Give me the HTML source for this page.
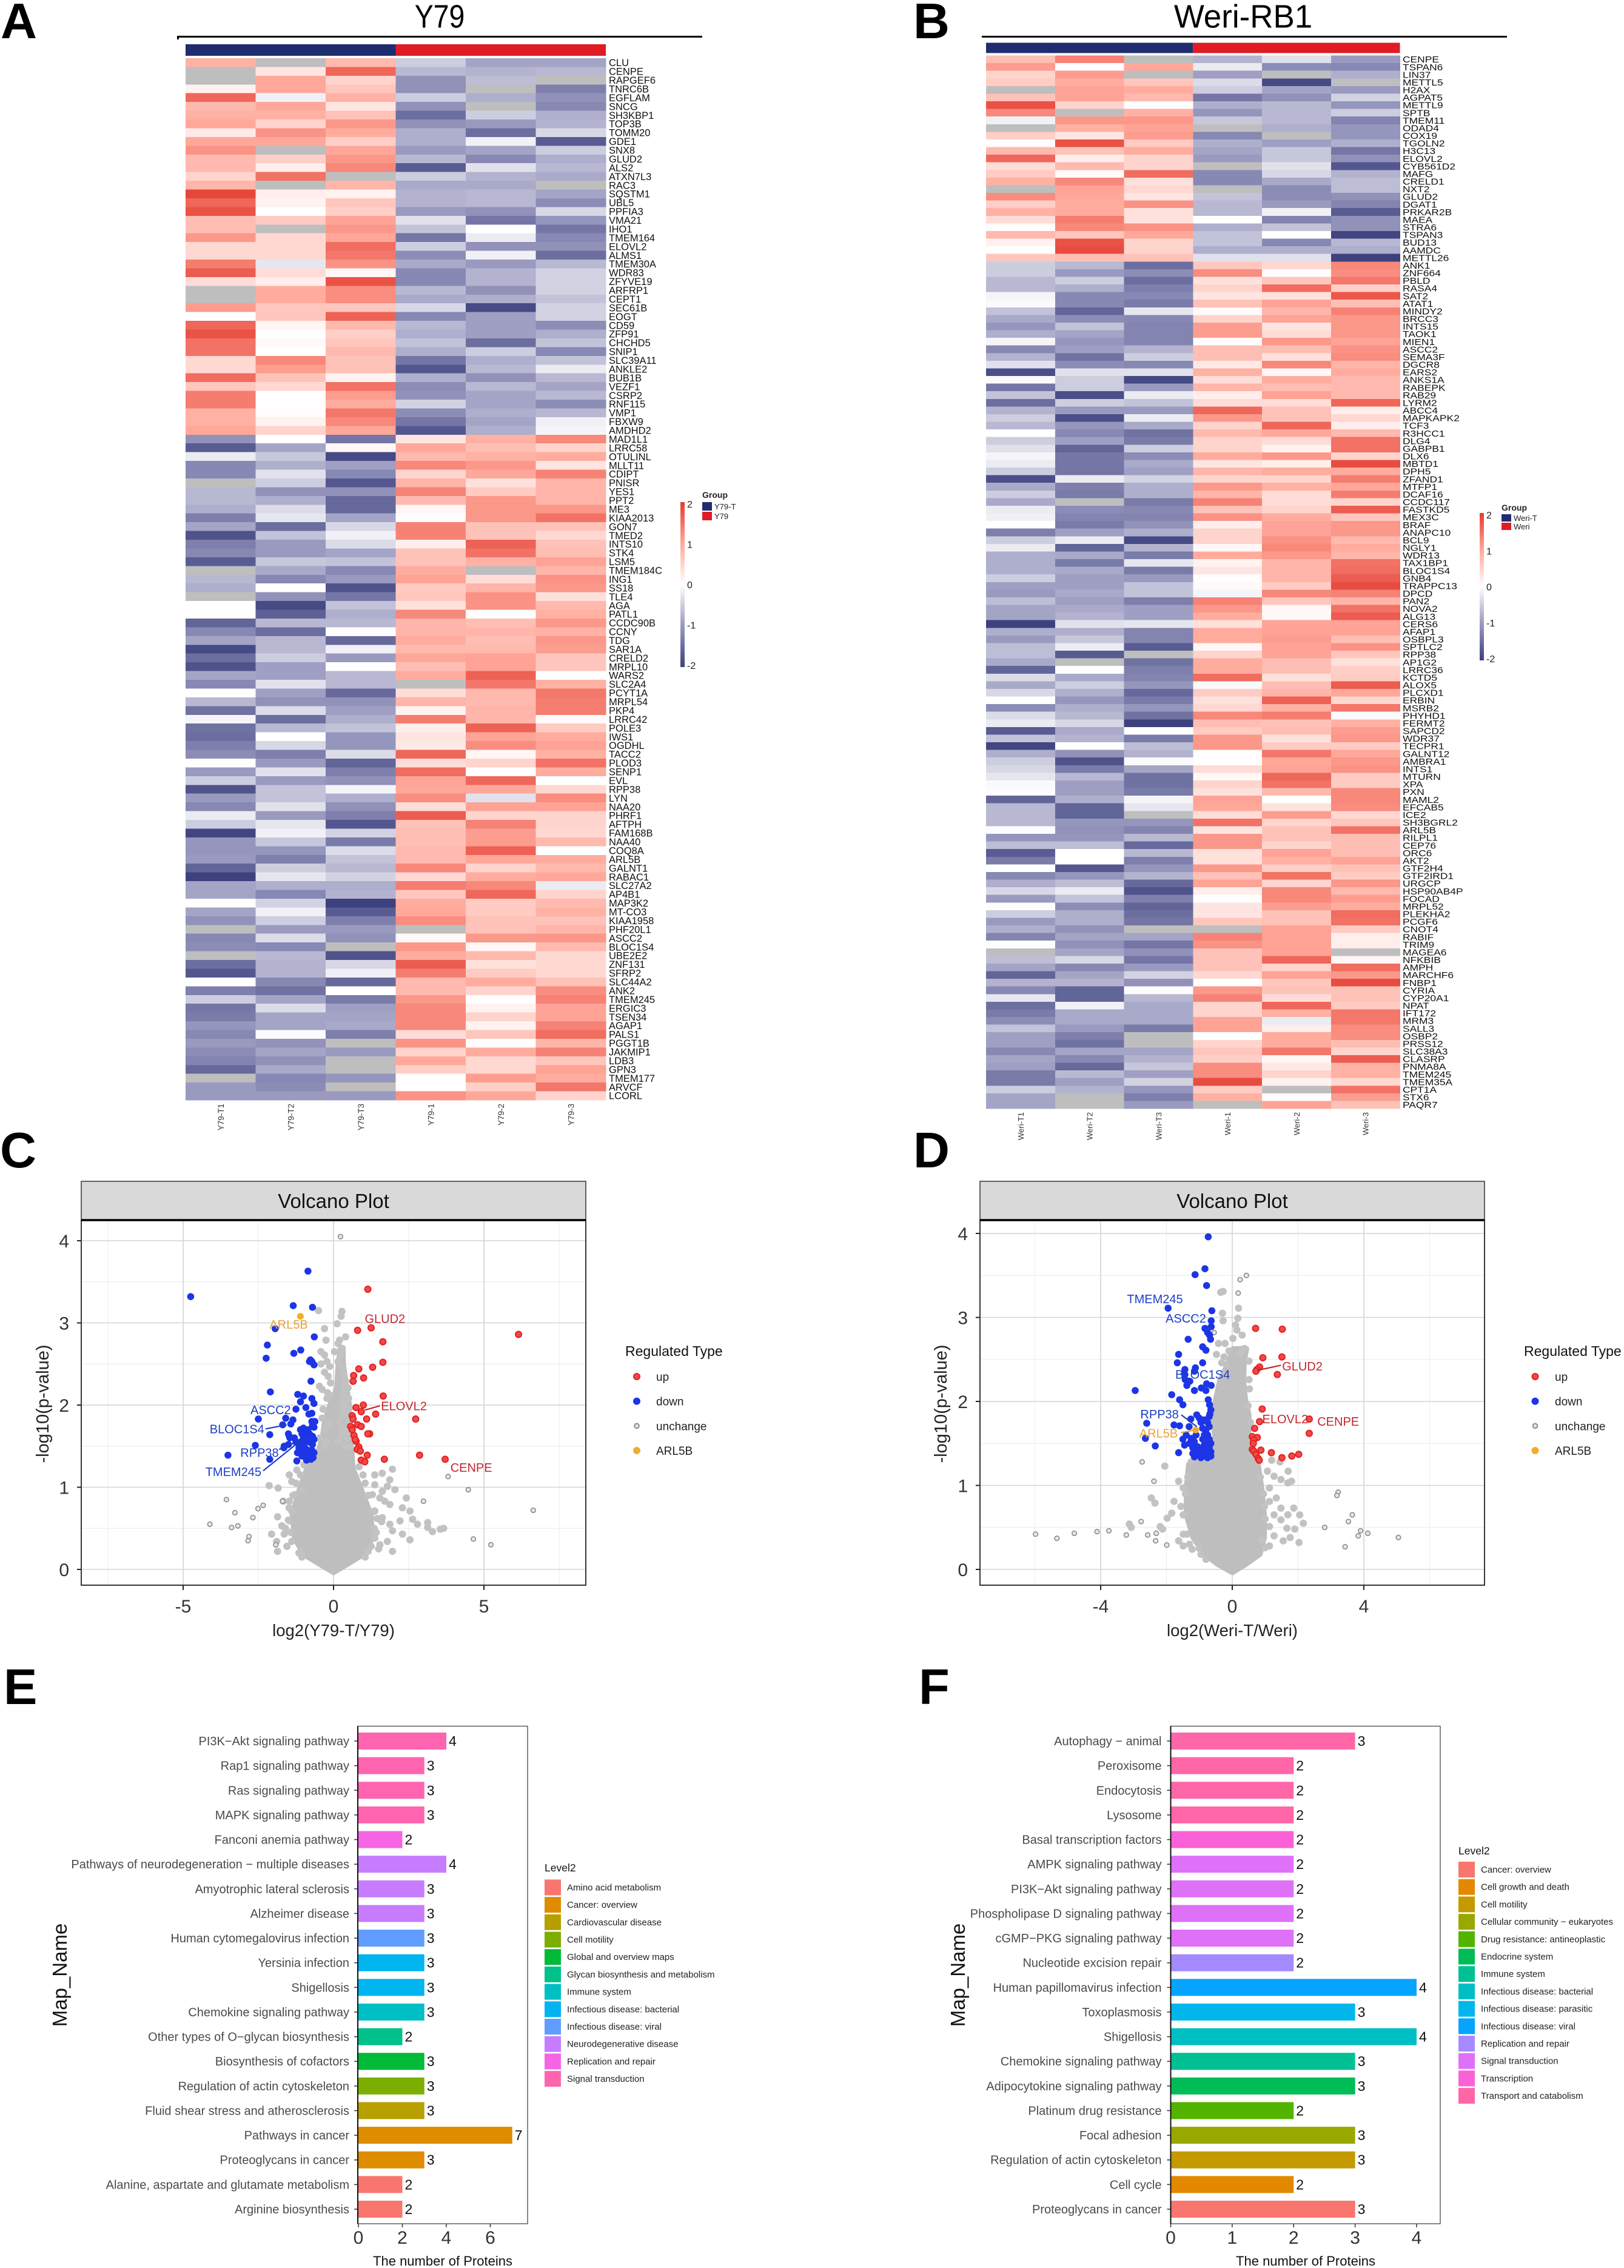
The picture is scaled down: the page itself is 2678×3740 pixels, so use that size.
<!DOCTYPE html>
<html lang="en">
<head>
<meta charset="utf-8">
<title>Proteomics figure: heatmaps, volcano plots and pathway bars</title>
<style>
html,body{margin:0;padding:0;background:#fff;}
svg{display:block;}
text{font-family:"Liberation Sans",sans-serif;}
</style>
</head>
<body>
<svg id="figure" xmlns="http://www.w3.org/2000/svg" width="2678" height="3740" viewBox="0 0 2678 3740">
<rect x="0" y="0" width="2678" height="3740" fill="#fff"/>
<text x="1" y="63" font-size="83" font-weight="700" fill="#000">A</text>
<text x="1506" y="63" font-size="83" font-weight="700" fill="#000">B</text>
<text x="0" y="1925" font-size="83" font-weight="700" fill="#000">C</text>
<text x="1506" y="1925" font-size="83" font-weight="700" fill="#000">D</text>
<text x="6" y="2810" font-size="83" font-weight="700" fill="#000">E</text>
<text x="1515" y="2810" font-size="83" font-weight="700" fill="#000">F</text>
<text transform="translate(725,45.5) scale(.86,1)" text-anchor="middle" font-size="54" fill="#000">Y79</text>
<text transform="translate(2050,45.5) scale(.98,1)" text-anchor="middle" font-size="54" fill="#000">Weri-RB1</text>
<rect x="292" y="59" width="866" height="3" fill="#000"/>
<rect x="292" y="59" width="3" height="6" fill="#000"/>
<rect x="1619" y="59" width="866" height="3" fill="#000"/>
</svg>
<script>
/* ---------- Heatmap A data (Y79) ---------- */
const y79Genes = ["CLU","CENPE","RAPGEF6","TNRC6B","EGFLAM","SNCG","SH3KBP1","TOP3B","TOMM20","GDE1","SNX8","GLUD2","ALS2","ATXN7L3","RAC3","SQSTM1","UBL5","PPFIA3","VMA21","IHO1","TMEM164","ELOVL2","ALMS1","TMEM30A","WDR83","ZFYVE19","ARFRP1","CEPT1","SEC61B","EOGT","CD59","ZFP91","CHCHD5","SNIP1","SLC39A11","ANKLE2","BUB1B","VEZF1","CSRP2","RNF115","VMP1","FBXW9","AMDHD2","MAD1L1","LRRC58","OTULINL","MLLT11","CDIPT","PNISR","YES1","PPT2","ME3","KIAA2013","GON7","TMED2","INTS10","STK4","LSM5","TMEM184C","ING1","SS18","TLE4","AGA","PATL1","CCDC90B","CCNY","TDG","SAR1A","CRELD2","MRPL10","WARS2","SLC2A4","PCYT1A","MRPL54","PKP4","LRRC42","POLE3","IWS1","OGDHL","TACC2","PLOD3","SENP1","EVL","RPP38","LYN","NAA20","PHRF1","AFTPH","FAM168B","NAA40","COQ8A","ARL5B","GALNT1","RABAC1","SLC27A2","AP4B1","MAP3K2","MT-CO3","KIAA1958","PHF20L1","ASCC2","BLOC1S4","UBE2E2","ZNF131","SFRP2","SLC44A2","ANK2","TMEM245","ERGIC3","TSEN34","AGAP1","PALS1","PGGT1B","JAKMIP1","LDB3","GPN3","TMEM177","ARVCF","LCORL"];
const y79Samples = ["Y79-T1","Y79-T2","Y79-T3","Y79-1","Y79-2","Y79-3"];
const y79Groups = ["Y79-T","Y79"];
const N = null;
const y79Values = [
[.9,N,.8,-.5,-.9,-.9],[N,.3,1.6,-.7,-.75,-.7],[N,1,.5,-1.1,-.65,N],[.15,1,.65,-1.1,N,-1.3],[1.6,-.15,.9,-.5,-.8,-1.1],[.8,1,.3,-1.1,N,-1.2],[.9,.9,.7,-1.5,-.5,-.8],[1,.5,1.15,-1.1,-1,-.75],[.25,1.2,.95,-.8,-1.5,-.4],[1,1,.55,-.8,-.15,-1.7],
[1.2,N,1,-1,-.9,-.5],[.8,.55,1.15,-.7,-1.2,-.8],[.8,.2,1.3,-1.7,-.3,-.7],[.5,1.5,N,-.5,-.75,-.85],[.85,N,.85,-.85,-.85,N],[1.9,.2,.15,-.75,-.7,-.9],[1.6,.15,.65,-.75,-.7,-1.15],[1.8,0,.55,-1,-1.1,-.4],[.75,.6,1.05,-.3,-1.4,-1.05],[.75,N,1.15,-.6,0,-1.4],
[1.15,.45,1,-1.4,-.2,-1.2],[.45,.45,1.55,-.5,-1.1,-1.1],[.45,.45,1.45,-1.15,-.15,-1.5],[1.4,-.25,1.2,-.85,-1,-.7],[1.7,.4,.1,-1.2,-.75,-.45],[.4,.2,1.8,-1.2,-.75,-.45],[N,.95,1.25,-.7,-1.1,-.45],[N,.95,1.25,-.85,-.8,-.6],[1.1,.65,.65,-.4,-1.9,-.45],[0,.65,1.65,-1.2,-.95,-.45],
[1.6,.1,.8,-.7,-.95,-1.15],[1.8,0,.55,-.8,-.95,-.8],[1.5,.07,.65,-.6,-1.5,-.6],[1.5,0,.8,-.8,-.5,-1.2],[.45,1.3,.7,-1.4,-.8,-.6],[.45,1.1,.7,-1.75,-.7,-.2],[1.55,.7,.15,-.8,-1.1,-.7],[.65,.45,1.5,-1.15,-.7,-.9],[1.4,.02,1.1,-1.1,-.9,-.7],[1.4,.02,.95,-.45,-.9,-1.15],
[.9,.03,1.45,-1.15,-.8,-.7],[.9,.15,1.3,-1.4,-.9,-.15],[1,.5,1,-1.75,-.8,-.1],[-1.1,0,-1.4,.3,.9,1.3],[-1.7,-.9,.1,1,.75,.5],[-.2,-.55,-1.9,.8,.9,.95],[-1.2,-.8,-.95,1.3,1.15,.3],[-1.2,-.3,-1.2,.5,1,1.35],[N,-.5,-1.75,.85,.35,.85],[-.7,-1.1,-1.1,1.35,.6,.85],
[-.7,-.8,-1.55,.8,1.15,.85],[-.8,-.35,-1.55,.1,1.15,1.15],[-1.3,-.25,-.9,.02,1.15,1.5],[-.9,-1.5,-.4,1.35,.7,.7],[-1.8,-.6,-.15,1.35,.7,.45],[-1.3,-1,-.35,.2,1.65,.7],[-1.2,-1,-.9,.7,1.5,.75],[-1.7,-.55,-.6,.7,.9,1.05],[N,-.85,-1.2,.95,N,.85],[-.7,-1.2,-1,1.05,.4,1.2],
[-.8,0,-1.8,.6,.85,1.15],[N,-1.1,-1.4,.65,1.2,.35],[0,-1.9,-.6,.35,1.2,.8],[0,-1.65,-.8,1.3,0,.9],[-1.6,-.7,-.7,.85,.75,1.15],[-1.2,-1.5,0,.85,.85,.9],[-.9,-.7,-1.55,.95,.75,1.15],[-1.9,-.7,-.15,.8,.8,1.1],[-1.5,-.5,-1,1,1.05,.65],[-1.8,-.95,0,.75,1.05,.65],
[-.9,-.95,-.7,.95,1.65,0],[-1.2,-.3,-.7,N,1.45,.9],[0,-.95,-1.55,.4,.8,1.45],[-.7,-1.1,-1.1,.85,.8,1.4],[-1.45,-.35,-.95,.15,.85,1.4],[-.1,-1.5,-.8,1.4,.85,.05],[-1.45,-.7,-.6,.2,1.65,.6],[-1.5,0,-1.05,.3,1.05,.95],[-1.3,-.4,-1.05,.25,1.25,1.05],[-1.15,-1.3,-.35,1.6,.1,.9],
[0,-1,-1.6,.4,.5,1.5],[-1,-.3,-1.3,1.55,0,.95],[-.5,-1,-1.1,1.05,1.6,0],[-1.8,-.6,-.1,1,1,.45],[-1,-.6,-.8,1.25,-.3,1.25],[-1.2,-.3,-1.1,.4,1.05,1.05],[-.2,-1,-1.3,1.7,.5,.5],[-.5,-.25,-1.75,.7,1.35,.5],[-1.95,-.15,-.45,.75,1.1,.45],[-1.05,-.55,-1.35,.75,1.1,.8],
[-1.05,-1.05,-.35,.8,1.65,0],[-1,-1.3,-.6,.8,1,.95],[-1.6,-.5,-.7,1.3,.5,.8],[-2,-.25,-.45,.45,.95,1],[-.9,-.8,-.8,1.4,1.3,-.2],[-.9,-1.2,-.75,.65,1.6,.5],[0,-.45,-2,.95,.6,.8],[-.9,-.15,-1.7,1,.6,.9],[-1.1,-.5,-1.3,1.25,.7,.7],[N,-1,-1,N,.7,.85],
[-1.2,-.35,-1.1,.06,1.15,1.15],[-1.15,-1.2,N,1.15,.1,.8],[N,-.7,-1.8,.95,.8,.45],[-1.5,-.75,-.4,1.7,.35,.45],[-1.75,-.75,-.15,1.4,.6,.45],[0,-1.2,-1.55,.8,.95,.7],[-1.3,-1.45,0,.8,.5,1.25],[-.5,-.9,-1.35,1.15,0,1.35],[-1.4,-.35,-.95,1.3,.15,1.05],[-1.35,-.9,-.9,1.3,.5,1.05],
[-1.05,-.9,-.85,1.3,.15,1.35],[-1.2,-.05,-1.3,.4,.65,1.55],[-1,-1.1,N,1.2,.02,.85],[-1.15,-.9,-1,.5,.95,1.35],[-1.25,-1.1,N,1,.45,.65],[-1.55,-.85,N,.55,.45,1.05],[N,-1.2,-1.05,.02,1.1,.95],[-1,-1.15,N,.02,.55,1.45],[-1,-1,-1,1.2,1,.5]
];

/* ---------- Heatmap B data (Weri-RB1) ---------- */
const weriGenes = ["CENPE","TSPAN6","LIN37","METTL5","H2AX","AGPAT5","METTL9","SPTB","TMEM11","ODAD4","COX19","TGOLN2","H3C13","ELOVL2","CYB561D2","MAFG","CRELD1","NXT2","GLUD2","DGAT1","PRKAR2B","MAEA","STRA6","TSPAN3","BUD13","AAMDC","METTL26","ANK1","ZNF664","PBLD","RASA4","SAT2","ATAT1","MINDY2","BRCC3","INTS15","TAOK1","MIEN1","ASCC2","SEMA3F","DGCR8","EARS2","ANKS1A","RABEPK","RAB29","LYRM2","ABCC4","MAPKAPK2","TCF3","R3HCC1","DLG4","GABPB1","DLX6","MBTD1","DPH5","ZFAND1","MTFP1","DCAF16","CCDC117","FASTKD5","MEX3C","BRAF","ANAPC10","BCL9","NGLY1","WDR13","TAX1BP1","BLOC1S4","GNB4","TRAPPC13","DPCD","PAN2","NOVA2","ALG13","CERS6","AFAP1","OSBPL3","SPTLC2","RPP38","AP1G2","LRRC36","KCTD5","ALOX5","PLCXD1","ERBIN","MSRB2","PHYHD1","FERMT2","SAPCD2","WDR37","TECPR1","GALNT12","AMBRA1","INTS1","MTURN","XPA","PXN","MAML2","EFCAB5","ICE2","SH3BGRL2","ARL5B","RILPL1","CEP76","ORC6","AKT2","GTF2H4","GTF2IRD1","URGCP","HSP90AB4P","FOCAD","MRPL52","PLEKHA2","PCGF6","CNOT4","RABIF","TRIM9","MAGEA6","NFKBIB","AMPH","MARCHF6","FNBP1","CYRIA","CYP20A1","NPAT","IFT172","MRM3","SALL3","OSBP2","PRSS12","SLC38A3","CLASRP","PNMA8A","TMEM245","TMEM35A","CPT1A","STX6","PAQR7"];
const weriSamples = ["Weri-T1","Weri-T2","Weri-T3","Weri-1","Weri-2","Weri-3"];
const weriGroups = ["Weri-T","Weri"];
const weriValues = [
[.75,1.35,N,-.75,-.3,-1],[1.1,.02,1,-.2,-1.15,-1.2],[.5,1.1,N,-.95,N,-.8],[.6,.95,.65,-.35,-1.9,N],[N,1.05,.95,-.5,-.9,-1],[.7,1.05,.8,-1.4,-1.1,-.45],[1.8,.5,0,-.8,-.7,-1.05],[1.3,N,.9,-1.05,-.7,-.5],[-.15,1.15,1.15,-.55,-.7,-1.25],[N,.9,1.05,N,-.8,-1.05],
[.55,.3,1.1,-1.2,N,-1.05],[.02,1.8,.6,-.8,-.95,-.8],[.8,.7,.95,-.9,-.55,-1.4],[1.6,.2,.5,-1,-.55,-1.1],[.4,.8,.5,N,-.3,-1.75],[.6,.05,1.55,-1.2,-.4,-.75],[.9,1.3,.35,-1.2,-.85,-.65],[N,1.05,.45,N,-1.15,-.65],[1.25,1,.3,-.6,-1.15,-1.1],[.55,.95,1.2,-.7,-1,-1.25],
[.9,.95,.35,-.7,-.15,-1.7],[.4,1.4,.35,0,-1.25,-1.1],[.04,1.3,1.2,-.8,-.6,-1.1],[.8,.65,1,-.6,0,-1.95],[.15,1.8,.5,-.6,-1.2,-.7],[0,1.85,.5,-.8,-.8,-.8],[.65,.75,.7,-.3,-.3,-2],[-.5,-.7,-1.5,.65,.45,1.3],[-.5,-1,-1.15,1.25,.02,1.25],[-.7,-.5,-1.5,.35,.65,1.45],
[-.7,-.8,-1.3,.5,1.55,.55],[-.1,-1.2,-1.2,.3,.35,1.75],[-.05,-1.2,-1.35,.7,1.05,.75],[-.6,-1.6,-.25,.05,.85,1.35],[-.85,-1.15,-1.2,.5,1.05,1.15],[-1.05,-.6,-1.25,1.1,.3,1.15],[-.8,-.9,-1.25,1.1,.4,1.15],[-.1,-1.05,-1.25,.02,1.15,1.05],[-1.2,-.95,-.75,.75,.75,1.2],[-.75,-1.45,-.5,.75,.35,1.25],
[-.3,-1.15,-1.2,.25,1.3,.85],[-1.85,-.3,-.3,.9,.1,.95],[-.05,-.5,-1.9,.4,.95,.8],[-1.4,-.5,-1,.85,.75,.8],[-.6,-1.85,-.2,.2,1.05,.8],[-1.5,-.5,-.6,.4,.4,1.6],[-.75,-1,-1,1.6,.7,.2],[-.5,-1.85,-.2,1.15,.7,.45],[-.7,-1.05,-.85,.5,1.6,.2],[0,-1.2,-1.45,.8,1,.8],
[-.5,-.95,-1.35,.5,.4,1.5],[-.3,-1.6,-.5,.5,.15,1.5],[-.1,-1.4,-1.15,.95,1.15,.5],[-.2,-1.4,-.85,.3,.2,1.85],[-.5,-1.4,-.95,.85,.95,.95],[-1.85,-.2,-.45,.5,.5,1.4],[-.85,-1.3,-.8,1.15,.9,1],[-.5,-1.35,-.8,.85,.4,1.4],[-.85,N,-1.35,1.35,.4,.5],[-.2,-1.15,-1.2,.7,.5,1.7],
[-.15,-1.25,-1.25,1.2,.95,.65],[0,-1.35,-1.1,.2,1.05,1.15],[-1.3,-.95,-.8,.5,1.05,1.15],[-.5,-.2,-1.9,.5,1.2,.8],[-.2,-1.6,-.75,.1,1.3,.95],[-.8,-.85,-1.35,.95,1.15,.85],[-.8,-1.35,-.25,.15,.85,1.5],[-.8,-.85,-1.35,.3,.85,1.55],[-.5,-.95,-1,.02,.85,1.7],[-.95,-.95,-.6,.07,.6,1.85],
[-1,-.85,-.6,-.1,1.3,1.35],[-.65,-.95,-1.3,1.35,.65,.85],[-.9,-.85,-.95,1.15,.08,1.5],[-.9,-.75,-.95,.95,.08,1.7],[-2,-.3,-.25,.35,1.05,1.05],[-.8,-.8,-1.25,.95,1.05,1.05],[-1,-.55,-1.25,.95,1.1,.75],[-.65,-.2,-1.7,.1,1.05,1.2],[-.65,-1.7,N,.5,1.05,.65],[-.85,N,-1.45,.95,.75,.35],
[-1.6,.02,-1.3,.95,.75,.55],[-.35,-.85,-1.25,1.55,.35,.6],[-.85,-.5,-1.05,-.05,.75,1.7],[-.4,-.8,-1.55,.6,.85,1],[0,-1.05,-1.35,.35,1.65,.45],[-1.15,-.8,-1.05,.45,.9,1.45],[-.35,-.7,-1.45,1.3,1.4,-.05],[-.2,-.4,-2,.75,.7,.9],[-1.7,-.85,0,.6,.75,1.1],[-.6,-.75,-1.35,1.15,.35,1.15],
[-1.95,0,-.65,1.15,.6,.6],[-.8,-1.1,-.75,.02,1.45,1],[-.5,-1.8,-.05,.02,1,1.15],[-.4,-1.35,-.9,.4,1.05,1.2],[-.25,-.7,-1.45,.08,1.6,.6],[-.05,-.95,-1.45,.5,1.5,.6],[-.03,-.95,-1.35,.35,.8,1.3],[-1.6,-.8,-.1,1.05,0,1.3],[-.7,-1.6,-.25,1,.35,1.25],[-.7,-1.6,N,.4,1.1,.45],
[-.7,-1.05,-1.05,1.5,.5,.65],[-.03,-1.1,-1.25,.3,.7,1.5],[-1.05,-1.05,-.7,1.15,.7,.75],[-.65,-.65,-1.55,1.15,.5,.75],[-1.7,0,-.7,.35,1.05,.75],[-1.35,0,-1.3,.35,.9,1.05],[0,-1.75,-1.05,1.15,.55,.7],[-1.2,-1.05,-.75,.7,1.5,.6],[-.8,-.65,-1.55,1.05,.5,1.15],[-.4,-.2,-1.8,.2,1.3,.8],
[-1,-.6,-1.3,.02,1.3,1.1],[.03,-1.15,-1.6,.3,1.1,.95],[-.5,-.8,-1.5,.3,.7,1.55],[-1,-.8,-1.4,.65,.7,1.5],[-.8,-1.1,N,N,1.05,.6],[-1.25,-.9,-.9,1.35,1.05,.2],[-.02,-1.1,-1.4,1.2,1.05,.2],[N,-.9,-1.1,.7,1.05,N],[-.65,-.4,-1.4,.7,1.6,.1],[-.9,-1.2,-1,.7,.5,1.55],
[-1.6,-.9,-.45,.45,1.05,1.15],[-.75,-.75,-1.1,0,.65,1.85],[-1.2,-1.6,-.03,1.15,.7,.7],[-.25,-1.6,-.7,1.35,.4,.7],[-1.5,-.15,-.85,.5,1.6,.6],[-1.35,-.85,-.85,.5,.9,1.45],[-1.15,-.85,-.85,1.05,-.2,1.45],[-.6,-1,-1.35,1.05,.2,1.25],[-.95,-1.3,N,0,.95,1.25],[-.95,-1.45,N,.5,.95,.75],
[-1.2,-.9,-.9,.65,1.45,.5],[-.9,-1.2,-.75,.55,.1,1.7],[-.95,-1.55,-.55,1.25,.25,.9],[-1.35,-.7,-.95,1.25,.5,.9],[-1.35,-.95,-.45,1.85,.15,.45],[-.5,-.75,-1.05,.6,N,1.5],[-.9,N,-1.3,.9,0,1.1],[-.9,N,-1,N,1.05,.7]
];
const colorbarTicks = [2,1,0,-1,-2];

/* ---------- Volcano C data (Y79) ---------- */
const y79UpX = [1.14,1.25,.8,1.64,6.15,1.64,1.3,.84,.67,1,.65,1.65,.75,.99,.92,.62,1.4,1.1,2.73,.65,.57,.8,.92,.62,1.2,1.14,.68,.75,.72,.84,.79,.89,1.12,2.86,3.71,1.69,.92,1.04];
const y79UpY = [3.41,2.94,2.91,2.77,2.86,2.52,2.46,2.44,2.36,2.33,2.29,2.11,1.97,2,1.92,1.87,1.89,1.83,1.83,1.83,1.74,1.76,1.74,1.7,1.65,1.65,1.63,1.56,1.58,1.49,1.46,1.44,1.39,1.39,1.34,1.34,1.33,1.31];
const y79DownX = [-4.75,-.85,-1.34,-.7,-1.94,-.64,-2.2,-1.09,-1.32,-2.24,-.77,-.72,-.65,-.8,-.75,-2.1,-1.19,-1,-.72,-1.1,-.65,-1.25,-.92,-.72,-.82,-2.5,-1.59,-1.35,-1.69,-1.42,-.72,-.65,-1,-2.12,-1.47,-2.6,-1.64,-3.51,-2.12,-1.22,-.89,-1.1,-1.05,-.95,-.85,-1,-.9,-.8,-.7,-1.1,-1,-.92,-.8,-.7,-.65,-1.15,-1.05,-.95,-.85,-.72,-.65,-1.2,-1.05,-.95,-.8,-.68,-.9,-.75,-1.3,-1.25,-1.5,-1.65,-1.45,-1.5,-.7,-.62];
const y79DownY = [3.32,3.63,3.21,3.19,2.93,2.83,2.73,2.67,2.63,2.57,2.55,2.53,2.49,2.53,2.29,2.16,2.13,2.11,2.08,2.04,2.02,1.95,1.97,1.9,1.89,1.83,1.84,1.82,1.76,1.77,1.8,1.73,1.72,1.64,1.62,1.51,1.5,1.39,1.34,1.32,1.34,1.7,1.65,1.68,1.7,1.6,1.62,1.65,1.62,1.55,1.52,1.56,1.55,1.52,1.58,1.48,1.45,1.48,1.45,1.45,1.42,1.42,1.38,1.4,1.38,1.36,1.33,1.34,1.6,1.55,1.52,1.48,1.6,1.65,1.75,1.8];
const y79GreyX = [.28,.25,.15,.28,.33,.4,.37,.32,.28,.32,.28,.2,.28,.25,.15,.37,.28,.25,.12,.4,.2,.15,.03,.48,.5,.53,.53,.45,.57,.37,.38,-.5,-.3,-.25,-.42,-.3,-.22,-.13,-.18,-.1,-.47,-.38,-.13,-.22,-.38,-.13,-.3,-.47,-.22,-.3,1.96,1.62,1.37,1.87,1.79,2.04,1.37,1.62,1.29,1.54,1.7,1.87,2.42,2.29,2.54,1.37,1.62,1.87,2.21,2.63,2.79,3.13,3.13,3.29,3.55,3.66,1.96,2.29,2.54,1.79,1.96,1.37,1.54,-1.22,-1.47,-1.39,-2.14,-1.84,-1.05,-1.3,-1.47,-1.67,-1.39,-1.86,-1.47,-1.72,-2.06,-1.89,-1.64,-1.39,-1.86,-1.05,1.3,1.35,1.42,1.15,1.05,.98,.85,1.45,1.25,-1.5,-1.42,-1.48,-1.35,-1.25,-1.1,-.98,-1.15,-1.05,1.15,1.05,-.3,-.42,-.2,-.35,.45,.52,-1.55,-1.6,1.5,1.6];
const y79GreyY = [2.69,2.61,2.53,2.45,2.37,2.29,2.21,2.13,2.04,1.96,1.88,1.8,1.72,1.64,1.56,1.5,3.14,3.08,2.99,2.83,2.79,2.75,2.65,2.21,2.08,1.96,1.8,1.68,1.48,1.88,2.04,3.15,2.93,2.79,2.65,2.61,2.53,2.47,2.35,2.27,2.23,2.19,2.12,2.08,1.84,1.76,1.7,1.6,1.56,1.5,1.22,1.17,1.15,1.09,1.01,.97,1.03,.95,.91,.87,.83,.79,.87,.75,.71,.71,.63,.55,.59,.61,.55,.57,.51,.46,.49,.5,.47,.43,.36,.34,.22,.38,.3,1.21,1.15,1.07,1.02,.99,.97,.91,.83,.83,.71,.64,.59,.53,.43,.34,.43,.34,.22,.22,.7,.5,.45,.9,1.05,1.15,1.25,.62,.28,.6,.45,.75,.9,1.05,1.15,1.27,.2,.15,.22,.15,2.4,2.5,2.15,1.95,1.6,1.72,.28,.5,.25,.58];
const y79RingX = [.23,3.81,4.48,6.64,2.99,4.65,5.23,-3.56,-3.28,-4.11,-3.39,-3.18,-2.68,-2.51,-2.34,-1.69,-2.84,-2.81,-1.92];
const y79RingY = [4.05,1.13,.97,.72,.83,.37,.3,.85,.69,.55,.51,.53,.63,.74,.78,.83,.35,.4,.3];
const y79MassY = [-.04,.08,.18,.38,.67,1,1.23,1.4,1.6,1.8,2,2.2,2.5,2.7];
const y79MassLeft = [0,-.55,-1,-1.3,-1.38,-1.12,-.89,-.55,-.38,-.3,-.13,.1,.15,.22];
const y79MassRight = [0,.55,1,1.3,1.25,.9,.65,.62,.58,.53,.53,.45,.33,.32];
const y79LabelNames = ["GLUD2","ARL5B","ELOVL2","CENPE","ASCC2","BLOC1S4","RPP38","TMEM245"];
const y79LabelTypes = ["up","mark","up","up","down","down","down","down"];
const y79LabelX = [1.71,-1.49,2.34,4.58,-2.09,-3.21,-2.46,-3.33];
const y79LabelY = [3.05,2.98,1.99,1.24,1.94,1.71,1.42,1.19];
const y79LinkStartX = [1.04,-2.26,-1.81,-2.34];
const y79LinkStartY = [1.94,1.71,1.46,1.2];
const y79LinkEndX = [1.54,-1.56,-1.05,-1.05];
const y79LinkEndY = [1.99,1.76,1.58,1.58];
const y79LinkTypes = ["up","down","down","down"];
const y79MarkX = [-1.1];
const y79MarkY = [3.08];
const y79XTicks = [-5,0,5];
const y79XMinor = [-7.5,-2.5,2.5,7.5];

/* ---------- Volcano D data (Weri-RB1) ---------- */
const weriUpX = [.71,1.52,1.51,.93,.83,.75,.72,1.37,.91,.83,2.34,2.34,.68,.61,.76,.65,.64,.61,.87,1.19,2.02,1.81,1.51,.65,.72,.79,.82];
const weriUpY = [2.87,2.86,2.53,2.52,2.41,2.38,2.36,2.32,1.91,1.76,1.79,1.62,1.68,1.58,1.57,1.54,1.5,1.43,1.42,1.39,1.37,1.35,1.33,1.41,1.37,1.32,1.3];
const weriDownX = [-.73,-.83,-1.13,-.78,-1.95,-.62,-.64,-.64,-.83,-.75,-.69,-1.34,-.66,-.9,-.8,-1.63,-1.67,-.9,-1.12,-1.44,-1.15,-1.44,-1.43,-1.29,-1.38,-.78,-.64,-1.15,-.94,-.8,-2.95,-1.84,-1.6,-1.5,-.73,-.69,-1.08,-1.26,-2.6,-1.77,-1.6,-1.31,-2.64,-2.34,-1.63,-.7,-.8,-.9,-.75,-.85,-.7,-.8,-.9,-.65,-.75,-.85,-.7,-.8,-.9,-.65,-.75,-.85,-1,-1.1,-.95,-.75,-.65,-1.15,-1.05,-1.15,-1.2,-1.3,-1.45,-1.5,-1.4,-1.25,-1.1,-1.2,-.7,-.65,-.68,-.95,-1,-.85,-.75];
const weriDownY = [3.96,3.58,3.51,3.38,3.11,3.08,2.96,2.89,2.87,2.82,2.79,2.74,2.74,2.65,2.61,2.56,2.46,2.46,2.4,2.38,2.36,2.32,2.26,2.24,2.19,2.21,2.19,2.13,2.16,2.13,2.13,2.08,2.02,1.96,2.02,1.96,1.84,1.79,1.74,1.72,1.71,1.7,1.56,1.47,1.39,1.7,1.66,1.68,1.6,1.6,1.55,1.55,1.55,1.5,1.5,1.48,1.45,1.42,1.42,1.4,1.38,1.36,1.36,1.4,1.33,1.33,1.35,1.34,1.46,1.52,1.45,1.5,1.48,1.55,1.6,1.56,1.6,1.38,1.82,1.9,1.85,1.75,1.8,1.78,1.75];
const weriGreyX = [-.3,-.28,.1,.14,.3,.17,.19,-.35,-.28,-.42,-.22,-.48,-.25,-.18,-.32,.24,.37,.51,.51,1.2,1.45,1.7,1.07,1.27,1.48,1.69,1.8,1.13,1.34,1.13,1.48,1.87,1.27,1.69,2.05,1.48,2.16,1.13,1.66,1.9,1.27,1.76,1,1.13,1.55,2.03,-2.05,-1.63,-1.49,-2.46,-2.35,-1.77,-1.56,-1.84,-1.49,-1.98,-2.19,-2.12,-3.13,-3.07,-1.49,-1.63,-1.49,-1.22,.95,1,.9,.98,.85,-1.42,-1.45,-1.38,-1.35,-1.3,-1.25,-.95,-.8,-1,.52,.48,.55,.02,-.1];
const weriGreyY = [3.05,2.96,2.91,2.85,2.79,2.99,3.11,3.3,3.31,2.69,2.69,2.56,2.53,2.44,2.46,2.57,2.63,2.48,2.26,1.3,1.28,1.17,1.17,1.11,1.07,1.03,1.05,.97,.85,.81,.73,.73,.65,.65,.65,.59,.55,.51,.49,.48,.4,.38,.26,.28,.34,.32,1.23,1.05,.97,.85,.79,.81,.75,.67,.65,.61,.51,.48,.54,.5,.42,.34,.28,.24,.9,.6,.35,.75,1.1,.9,.65,.42,1.1,.3,1.28,.18,.12,.25,2.15,1.95,1.75,2.75,2.6];
const weriRingX = [.43,.24,.18,-2.74,-2.38,3.22,3.18,3.65,3.53,2.81,3.9,4.12,3.83,5.05,3.43,-5.98,-5.33,-4.8,-4.11,-3.75,-3.22,-2.57,-2.31,-2.33,-1.99,-2.77,-.55];
const weriRingY = [3.5,3.45,3.29,1.28,1.05,.92,.88,.65,.57,.5,.46,.43,.4,.38,.27,.42,.37,.43,.45,.46,.41,.41,.43,.34,.29,.57,2.82];
const weriMassY = [-.04,.06,.18,.38,.65,.97,1.25,1.33,1.56,1.84,2.04,2.24,2.48,2.63];
const weriMassLeft = [0,-.45,-.85,-1.2,-1.4,-1.4,-1.33,-.62,-.53,-.6,-.5,-.39,-.11,.03];
const weriMassRight = [0,.42,.85,.98,.98,.9,.79,.65,.51,.51,.4,.35,.37,.44];
const weriLabelNames = ["TMEM245","ASCC2","BLOC1S4","RPP38","ARL5B","GLUD2","ELOVL2","CENPE"];
const weriLabelTypes = ["down","down","down","down","mark","up","up","up"];
const weriLabelX = [-2.35,-1.41,-.9,-2.21,-2.24,2.13,1.61,3.22];
const weriLabelY = [3.22,2.99,2.32,1.85,1.62,2.42,1.79,1.76];
const weriLinkStartX = [.76,-1.55,-1.56];
const weriLinkStartY = [2.37,1.84,1.63];
const weriLinkEndX = [1.48,-1.08,-1.11];
const weriLinkEndY = [2.43,1.7,1.66];
const weriLinkTypes = ["up","down","mark"];
const weriMarkX = [-1.11];
const weriMarkY = [1.66];
const weriXTicks = [-4,0,4];
const weriXMinor = [-6,-2,2,6];
const volcanoYTicks = [0,1,2,3,4];
const volcanoYMinor = [.5,1.5,2.5,3.5];
const volcanoLegendItems = ["up","down","unchange","ARL5B"];

/* ---------- Bar chart E data ---------- */
const barENames = ["PI3K\u2212Akt signaling pathway","Rap1 signaling pathway","Ras signaling pathway","MAPK signaling pathway","Fanconi anemia pathway","Pathways of neurodegeneration \u2212 multiple diseases","Amyotrophic lateral sclerosis","Alzheimer disease","Human cytomegalovirus infection","Yersinia infection","Shigellosis","Chemokine signaling pathway","Other types of O\u2212glycan biosynthesis","Biosynthesis of cofactors","Regulation of actin cytoskeleton","Fluid shear stress and atherosclerosis","Pathways in cancer","Proteoglycans in cancer","Alanine, aspartate and glutamate metabolism","Arginine biosynthesis"];
const barECounts = [4,3,3,3,2,4,3,3,3,3,3,3,2,3,3,3,7,3,2,2];
const barELevelIndex = [11,11,11,11,10,9,9,9,8,7,7,6,5,4,3,2,1,1,0,0];
const barELevels = ["Amino acid metabolism","Cancer: overview","Cardiovascular disease","Cell motility","Global and overview maps","Glycan biosynthesis and metabolism","Immune system","Infectious disease: bacterial","Infectious disease: viral","Neurodegenerative disease","Replication and repair","Signal transduction"];
const barEColors = ["#F8766D","#DE8C00","#B79F00","#7CAE00","#00BA38","#00C08B","#00BFC4","#00B4F0","#619CFF","#C77CFF","#F564E3","#FF64B0"];
const barETicks = [0,2,4,6];

/* ---------- Bar chart F data ---------- */
const barFNames = ["Autophagy \u2212 animal","Peroxisome","Endocytosis","Lysosome","Basal transcription factors","AMPK signaling pathway","PI3K\u2212Akt signaling pathway","Phospholipase D signaling pathway","cGMP\u2212PKG signaling pathway","Nucleotide excision repair","Human papillomavirus infection","Toxoplasmosis","Shigellosis","Chemokine signaling pathway","Adipocytokine signaling pathway","Platinum drug resistance","Focal adhesion","Regulation of actin cytoskeleton","Cell cycle","Proteoglycans in cancer"];
const barFCounts = [3,2,2,2,2,2,2,2,2,2,4,3,4,3,3,2,3,3,2,3];
const barFLevelIndex = [13,13,13,13,12,11,11,11,11,10,9,8,7,6,5,4,3,2,1,0];
const barFLevels = ["Cancer: overview","Cell growth and death","Cell motility","Cellular community \u2212 eukaryotes","Drug resistance: antineoplastic","Endocrine system","Immune system","Infectious disease: bacterial","Infectious disease: parasitic","Infectious disease: viral","Replication and repair","Signal transduction","Transcription","Transport and catabolism"];
const barFColors = ["#F8766D","#E38900","#C49A00","#99A800","#53B400","#00BC56","#00C094","#00BFC4","#00B6EB","#06A4FF","#A58AFF","#DF70F8","#FB61D7","#FF66A8"];
const barFTicks = [0,1,2,3,4];

/* ---------- Helpers ---------- */
const SVGNS = "http://www.w3.org/2000/svg";
const root = document.getElementById("figure");
function add(tag, parent, attrs, txt) {
  const node = document.createElementNS(SVGNS, tag);
  for (const k in attrs) node.setAttribute(k, attrs[k]);
  if (txt !== undefined) node.textContent = txt;
  parent.appendChild(node);
  return node;
}
function linear(d0, d1, r0, r1) {
  return function (v) { return r0 + (v - d0) * (r1 - r0) / (d1 - d0); };
}
function heatColor(v) {
  if (v === null) return "#bebebe";
  const stops = [[61,65,126],[154,154,192],[255,255,255],[255,168,154],[228,60,48]];
  const t = Math.max(0, Math.min(3.9999, v + 2));
  const i = Math.floor(t), f = t - i;
  const c = [0,1,2].map(function (k) { return Math.round(stops[i][k] + (stops[i + 1][k] - stops[i][k]) * f); });
  return "rgb(" + c.join(",") + ")";
}

/* ---------- Heatmap ---------- */
function drawHeatmap(prefix, genes, samples, groups, values, g) {
  const group = add("g", root, {});
  
  
  const colW = (g.right - g.left) / samples.length;
  const rowH = (g.bottom - g.top) / genes.length;
  const xOf = linear(0, samples.length, g.left, g.right);
  const yOf = linear(0, genes.length, g.top, g.bottom);
  const barT = add("rect", group, {x: g.left, y: g.barTop, width: colW * 3, height: g.barH, fill: "#1f2d6e"});
  
  
  const barC = add("rect", group, {x: g.left + colW * 3, y: g.barTop, width: colW * 3, height: g.barH, fill: "#e01b24"});
  
  
  values.forEach(function (row, r) {
    row.forEach(function (v, c) {
      const cell = add("rect", group, {x: xOf(c), y: yOf(r), width: colW + .4, height: rowH + .4, fill: heatColor(v), "shape-rendering": "crispEdges"});
      
      
    });
    const lab = add("text", group, {transform: "translate(" + g.labelX + "," + (yOf(r) + rowH / 2 + g.labelFont * .36) + ") scale(" + g.labelStretch + ",1)", "font-size": g.labelFont, fill: "#111"}, genes[r]);
    
    
  });
  samples.forEach(function (s, c) {
    const t = add("text", group, {transform: "translate(" + (xOf(c) + colW / 2 + 5) + "," + g.sampleY + ") rotate(-90)", "text-anchor": "end", "font-size": g.sampleFont, fill: "#333"}, s);
    
    
  });
  /* colour bar */
  const cbY = linear(2, -2, g.cbTick2, g.cbTickM2);
  const gradId = prefix + "-grad";
  const defs = add("defs", group, {});
  const grad = add("linearGradient", defs, {id: gradId, x1: 0, y1: 0, x2: 0, y2: 1});
  [2,1,0,-1,-2].forEach(function (v, i) {
    add("stop", grad, {offset: (i * 25) + "%", "stop-color": heatColor(v)});
  });
  const cb = add("rect", group, {x: g.cbX, y: cbY(2) - 3, width: g.cbW, height: cbY(-2) - cbY(2) + 6, fill: "url(#" + gradId + ")"});
  
  
  colorbarTicks.forEach(function (v) {
    const t = add("text", group, {x: g.cbX + g.cbW + 4, y: cbY(v) + 6, "font-size": 16, fill: "#222"}, String(v));
    
    
  });
  const gt = add("text", group, {x: g.legX, y: g.legTitleY + 5, "font-size": 14, "font-weight": 700, fill: "#222"}, "Group");
  
  
  groups.forEach(function (name, i) {
    const y0 = g.legY + i * g.legStep;
    const sw = add("rect", group, {x: g.legX, y: y0, width: 16, height: g.legStep - 2, fill: i === 0 ? "#1f2d6e" : "#e01b24"});
    
    
    const t = add("text", group, {x: g.legX + 20, y: y0 + g.legStep / 2 + 4, "font-size": 13, fill: "#222"}, name);
    
    
  });
}

drawHeatmap("y79", y79Genes, y79Samples, y79Groups, y79Values, {
  left: 306, right: 999, top: 96, bottom: 1814, barTop: 73, barH: 19,
  labelX: 1004, labelFont: 16.5, labelStretch: 1, sampleY: 1820, sampleFont: 13.5,
  cbX: 1122, cbW: 7, cbTick2: 831, cbTickM2: 1097,
  legX: 1158, legTitleY: 816, legY: 828, legStep: 16
});
drawHeatmap("weri", weriGenes, weriSamples, weriGroups, weriValues, {
  left: 1626, right: 2308.5, top: 91.5, bottom: 1828, barTop: 70.5, barH: 17,
  labelX: 2313, labelFont: 15, labelStretch: 1.16, sampleY: 1834, sampleFont: 13,
  cbX: 2440, cbW: 7, cbTick2: 849, cbTickM2: 1086,
  legX: 2476, legTitleY: 837, legY: 848, legStep: 14
});

/* ---------- Volcano ---------- */
const typeColor = {up: "#c0272d", down: "#1c3fc4", mark: "#e8a33d"};
function drawVolcano(d) {
  const group = add("g", root, {});
  
  
  const x = d.x, y = d.y, P = d.panel;
  const strip = add("rect", group, {x: P.l, y: 1948, width: P.r - P.l, height: 64, fill: "#d9d9d9", stroke: "#333", "stroke-width": 1.5});
  
  
  const stripText = add("text", group, {x: x(0), y: 1992, "text-anchor": "middle", "font-size": 33, fill: "#111"}, "Volcano Plot");
  
  
  d.xMinor.forEach(function (v) {
    const l = add("line", group, {x1: x(v), x2: x(v), y1: 2012, y2: 2614, stroke: "#eeeeee", "stroke-width": 1.2});
    
    
  });
  volcanoYMinor.forEach(function (v) {
    const l = add("line", group, {x1: P.l, x2: P.r, y1: y(v), y2: y(v), stroke: "#eeeeee", "stroke-width": 1.2});
    
    
  });
  d.xTicks.forEach(function (v) {
    const l = add("line", group, {x1: x(v), x2: x(v), y1: 2012, y2: 2614, stroke: "#d4d4d4", "stroke-width": 1.6});
    
    
    const tick = add("line", group, {x1: x(v), x2: x(v), y1: 2614, y2: 2622, stroke: "#222", "stroke-width": 2});
    
    
    const t = add("text", group, {x: x(v), y: 2659, "text-anchor": "middle", "font-size": 30, fill: "#333"}, String(v));
    
    
  });
  volcanoYTicks.forEach(function (v) {
    const l = add("line", group, {x1: P.l, x2: P.r, y1: y(v), y2: y(v), stroke: "#d4d4d4", "stroke-width": 1.6});
    
    
    const tick = add("line", group, {x1: P.l - 7, x2: P.l, y1: y(v), y2: y(v), stroke: "#222", "stroke-width": 2});
    
    
    const t = add("text", group, {x: P.l - 20, y: y(v) + 11, "text-anchor": "end", "font-size": 30, fill: "#333"}, String(v));
    
    
  });
  /* dense unchanged mass */
  const pts = [];
  d.massY.forEach(function (v, i) { pts.push(x(d.massRight[i]) + "," + y(v)); });
  for (let i = d.massY.length - 1; i >= 0; i--) pts.push(x(d.massLeft[i]) + "," + y(d.massY[i]));
  const mass = add("polygon", group, {points: pts.join(" "), fill: "#bebebe", stroke: "#bebebe", "stroke-width": 8, "stroke-linejoin": "round"});
  
  
  d.greyX.forEach(function (v, i) {
    const c = add("circle", group, {cx: x(v), cy: y(d.greyY[i]), r: 6, fill: "#c2c2c2"});
    
    
  });
  d.ringX.forEach(function (v, i) {
    const c = add("circle", group, {cx: x(v), cy: y(d.ringY[i]), r: 3.8, fill: "#e6e6e6", stroke: "#8c8c8c", "stroke-width": 1.6});
    
    
  });
  d.downX.forEach(function (v, i) {
    const c = add("circle", group, {cx: x(v), cy: y(d.downY[i]), r: 5.8, fill: "#1d35e6"});
    
    
  });
  d.upX.forEach(function (v, i) {
    const c = add("circle", group, {cx: x(v), cy: y(d.upY[i]), r: 5, fill: "#ee4a4a", stroke: "#e6201f", "stroke-width": 2});
    
    
  });
  d.markX.forEach(function (v, i) {
    const c = add("circle", group, {cx: x(v), cy: y(d.markY[i]), r: 5.5, fill: "#efae2c"});
    
    
  });
  d.linkStartX.forEach(function (v, i) {
    const l = add("line", group, {x1: x(v), y1: y(d.linkStartY[i]), x2: x(d.linkEndX[i]), y2: y(d.linkEndY[i]), stroke: typeColor[d.linkTypes[i]], "stroke-width": 2.2});
    
    
  });
  d.labelNames.forEach(function (name, i) {
    const t = add("text", group, {x: x(d.labelX[i]), y: y(d.labelY[i]) + 7, "text-anchor": "middle", "font-size": 20, fill: typeColor[d.labelTypes[i]]}, name);
    
    
  });
  const frame = add("rect", group, {x: P.l, y: 2012, width: P.r - P.l, height: 602, fill: "none", stroke: "#222", "stroke-width": 1.8});
  
  
  const sep = add("line", group, {x1: P.l, x2: P.r, y1: 2012, y2: 2012, stroke: "#000", "stroke-width": 3.5});
  
  
  const xt = add("text", group, {x: x(0), y: 2698, "text-anchor": "middle", "font-size": 27.5, fill: "#222"}, d.xTitle);
  
  
  const yt = add("text", group, {transform: "translate(" + d.yTitleX + ",2315) rotate(-90)", "text-anchor": "middle", "font-size": 29, fill: "#222"}, "-log10(p-value)");
  
  
  const lt = add("text", group, {x: d.legX, y: 2236, "font-size": 23, fill: "#111"}, "Regulated Type");
  
  
  const legendFill = ["#ee4a4a","#1d35e6","#e6e6e6","#efae2c"];
  const legendStroke = ["#e6201f","#1d35e6","#8c8c8c","#efae2c"];
  const legendY = linear(0, 3, 2270, 2392);
  volcanoLegendItems.forEach(function (name, i) {
    const c = add("circle", group, {cx: d.legDot, cy: legendY(i), r: i === 2 ? 3.8 : 5, fill: legendFill[i], stroke: legendStroke[i], "stroke-width": 2});
    
    
    const t = add("text", group, {x: d.legText, y: legendY(i) + 7, "font-size": 19, fill: "#222"}, name);
    
    
  });
}

drawVolcano({
  x: linear(0, 5, 550, 798), y: linear(0, 4, 2588, 2046), panel: {l: 134, r: 966},
  xTicks: y79XTicks, xMinor: y79XMinor, xTitle: "log2(Y79-T/Y79)", yTitleX: 80,
  upX: y79UpX, upY: y79UpY, downX: y79DownX, downY: y79DownY, greyX: y79GreyX, greyY: y79GreyY,
  ringX: y79RingX, ringY: y79RingY, massY: y79MassY, massLeft: y79MassLeft, massRight: y79MassRight,
  markX: y79MarkX, markY: y79MarkY, labelNames: y79LabelNames, labelTypes: y79LabelTypes, labelX: y79LabelX, labelY: y79LabelY,
  linkStartX: y79LinkStartX, linkStartY: y79LinkStartY, linkEndX: y79LinkEndX, linkEndY: y79LinkEndY, linkTypes: y79LinkTypes,
  legX: 1031, legDot: 1050, legText: 1082
});
drawVolcano({
  x: linear(0, 4, 2032, 2249), y: linear(0, 4, 2588, 2034), panel: {l: 1616, r: 2448},
  xTicks: weriXTicks, xMinor: weriXMinor, xTitle: "log2(Weri-T/Weri)", yTitleX: 1561,
  upX: weriUpX, upY: weriUpY, downX: weriDownX, downY: weriDownY, greyX: weriGreyX, greyY: weriGreyY,
  ringX: weriRingX, ringY: weriRingY, massY: weriMassY, massLeft: weriMassLeft, massRight: weriMassRight,
  markX: weriMarkX, markY: weriMarkY, labelNames: weriLabelNames, labelTypes: weriLabelTypes, labelX: weriLabelX, labelY: weriLabelY,
  linkStartX: weriLinkStartX, linkStartY: weriLinkStartY, linkEndX: weriLinkEndX, linkEndY: weriLinkEndY, linkTypes: weriLinkTypes,
  legX: 2513, legDot: 2531.5, legText: 2564
});

/* ---------- Bars ---------- */
function drawBars(b) {
  const group = add("g", root, {});
  
  
  const x = b.x;
  const yOf = linear(0, 19, 2871, 3643);
  b.names.forEach(function (name, i) {
    const cy = yOf(i);
    const bar = add("rect", group, {x: x(0), y: cy - 14, width: x(b.counts[i]) - x(0), height: 28, fill: b.colors[b.levelIndex[i]]});
    
    
    const tick = add("line", group, {x1: b.left - 6, x2: b.left, y1: cy, y2: cy, stroke: "#333", "stroke-width": 1.5});
    
    
    const lab = add("text", group, {x: b.labelX, y: cy + 7, "text-anchor": "end", "font-size": 20, fill: "#4a4a4a"}, name);
    
    
    const val = add("text", group, {x: x(b.counts[i]) + 4, y: cy + 8, "font-size": 23, fill: "#111"}, String(b.counts[i]));
    
    
  });
  const frame = add("rect", group, {x: b.left, y: 2846.5, width: b.right - b.left, height: 820.5, fill: "none", stroke: "#555", "stroke-width": 1.4});
  
  
  const axisLine = add("line", group, {x1: b.left, x2: b.left, y1: 2846.5, y2: 3667, stroke: "#111", "stroke-width": 2});
  
  
  b.ticks.forEach(function (v) {
    const tick = add("line", group, {x1: x(v), x2: x(v), y1: 3667, y2: 3673, stroke: "#333", "stroke-width": 1.5});
    
    
    const t = add("text", group, {x: x(v), y: 3700, "text-anchor": "middle", "font-size": 30, fill: "#333"}, String(v));
    
    
  });
  const xt = add("text", group, {x: b.xTitleX, y: 3736, "text-anchor": "middle", "font-size": 22, fill: "#111"}, "The number of Proteins");
  
  
  const yt = add("text", group, {transform: "translate(" + b.yTitleX + ",3257) rotate(-90)", "text-anchor": "middle", "font-size": 33, fill: "#111"}, "Map_Name");
  
  
  const lt = add("text", group, {x: b.legX, y: b.legTitleY + 6, "font-size": 17.5, fill: "#111"}, "Level2");
  
  
  const legendRow = linear(0, 1, b.legFirst, b.legFirst + 28.7);
  b.levels.forEach(function (name, i) {
    const sw = add("rect", group, {x: b.legX, y: legendRow(i) - 13, width: 27, height: 26, fill: b.colors[i]});
    
    
    const t = add("text", group, {x: b.legText, y: legendRow(i) + 5, "font-size": 15, fill: "#222"}, name);
    
    
  });
}

drawBars({
  x: linear(0, 6, 591, 808.5), left: 590, right: 870, labelX: 576, xTitleX: 730, yTitleX: 110,
  names: barENames, counts: barECounts, levelIndex: barELevelIndex, levels: barELevels, colors: barEColors, ticks: barETicks,
  legX: 898, legText: 935, legTitleY: 3080, legFirst: 3112.4
});
drawBars({
  x: linear(0, 4, 1930.5, 2336), left: 1930.5, right: 2375, labelX: 1915.5, xTitleX: 2153, yTitleX: 1591,
  names: barFNames, counts: barFCounts, levelIndex: barFLevelIndex, levels: barFLevels, colors: barFColors, ticks: barFTicks,
  legX: 2405, legText: 2442, legTitleY: 3052, legFirst: 3083
});
</script>
</body>
</html>
